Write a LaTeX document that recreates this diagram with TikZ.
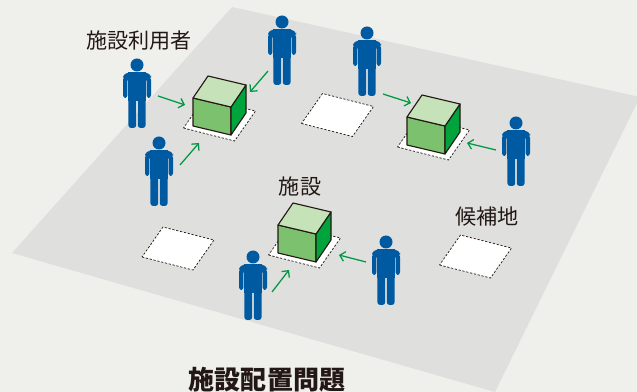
\documentclass[tikz,border=0pt]{standalone}
\usepackage{fontspec}
\newfontfamily\cjk{Noto Sans CJK JP}
\usetikzlibrary{arrows.meta}

\definecolor{paper}{RGB}{239,239,235}
\definecolor{floor}{RGB}{223,224,221}
\definecolor{userblue}{RGB}{0,90,162}
\definecolor{flowgreen}{RGB}{0,152,68}
\definecolor{boxtop}{RGB}{198,226,184}
\definecolor{boxfront}{RGB}{124,194,110}
\definecolor{boxside}{RGB}{0,163,60}
\definecolor{ink}{RGB}{35,24,21}

\tikzset{
  % empty candidate site, centred on its middle
  site/.pic={
    \draw[ink, fill=white, line width=0.5pt, dash pattern=on 1.6pt off 1.2pt]
      (-36,8.5) -- (15,21.5) -- (36,-8.5) -- (-15,-21.5) -- cycle;
  },
  % site with a facility box on it
  facility/.pic={
    \pic {site};
    \begin{scope}[draw=ink, line width=0.8pt, line join=round]
      \filldraw[fill=boxfront] (-26.5,6.5) -- (11.5,15.5) -- (11.5,-12.5) -- (-26.5,-21.5) -- cycle;
      \filldraw[fill=boxside] (11.5,15.5) -- (26.5,-6.5) -- (26.5,-34.5) -- (11.5,-12.5) -- cycle;
      \filldraw[fill=boxtop] (-26.5,-21.5) -- (11.5,-12.5) -- (26.5,-34.5) -- (-11.5,-43.5) -- cycle;
    \end{scope}
  },
  % user figure, origin at the head
  person/.pic={
    \begin{scope}[userblue]
      \fill (0,0) circle (6.5);
      \fill[rounded corners=4] (-14,16) -- (-14,7.5) -- (14,7.5) -- (14,16) -- cycle;
      \fill[rounded corners=2] (-14,12) rectangle (-9.6,33);
      \fill[rounded corners=2] (9.6,12) rectangle (14,33);
      \fill (-8.6,7.5) rectangle (8.6,36);
      \fill[rounded corners=2] (-8.6,30) rectangle (-0.8,63);
      \fill[rounded corners=2] (0.8,30) rectangle (8.6,63);
    \end{scope}
  },
  flow/.style={flowgreen, line width=0.9pt, -{Straight Barb[length=3.5pt,width=7pt]}},
  cjklabel/.style={font=\cjk\fontsize{15pt}{15pt}\selectfont, text=ink},
}

\begin{document}
\begin{tikzpicture}[x=0.025cm, y=-0.025cm]
\useasboundingbox (0,0) rectangle (637,392);
\fill[paper] (0,0) rectangle (637,392);
\clip (0,0) rectangle (637,392);

%floor plane
\fill[floor] (232,7) -- (640,97) -- (495,392) -- (12,253) -- cycle;

%sites and facilities
\pic at (219.5,119.5) {facility};
\pic at (433.5,138.5) {facility};
\pic at (304.5,246.5) {facility};
\pic at (337.5,115) {site};
\pic at (178,248.5) {site};
\pic at (475.5,256.5) {site};

%users
\foreach \hx/\hy in {137/65, 282/22, 159/143, 367/33, 516/123, 253/257, 386/242}{
  \pic at (\hx,\hy) {person};
}

%who goes where
\foreach \n/\ax/\ay/\bx/\by in {1/158/96/185/105, 2/268/71/250/92, 3/180/165/199/143,
    4/383/94/411/103, 5/496/150/467/143, 6/272/292/289/270, 7/366/262/339/255}{
  \coordinate (from\n) at (\ax,\ay);
  \coordinate (to\n) at (\bx,\by);
  \draw[flow] (from\n) -- (to\n);
}

%labels
\node[cjklabel] (userlbl) at (139,41) {施設利用者};
\node[cjklabel] (faclbl) at (300,186) {施設};
\node[cjklabel] (sitelbl) at (487,217) {候補地};
\node[font=\cjk\bfseries\fontsize{18.5pt}{18.5pt}\selectfont, text=ink] (title) at (267,380) {施設配置問題};
\end{tikzpicture}
\end{document}
